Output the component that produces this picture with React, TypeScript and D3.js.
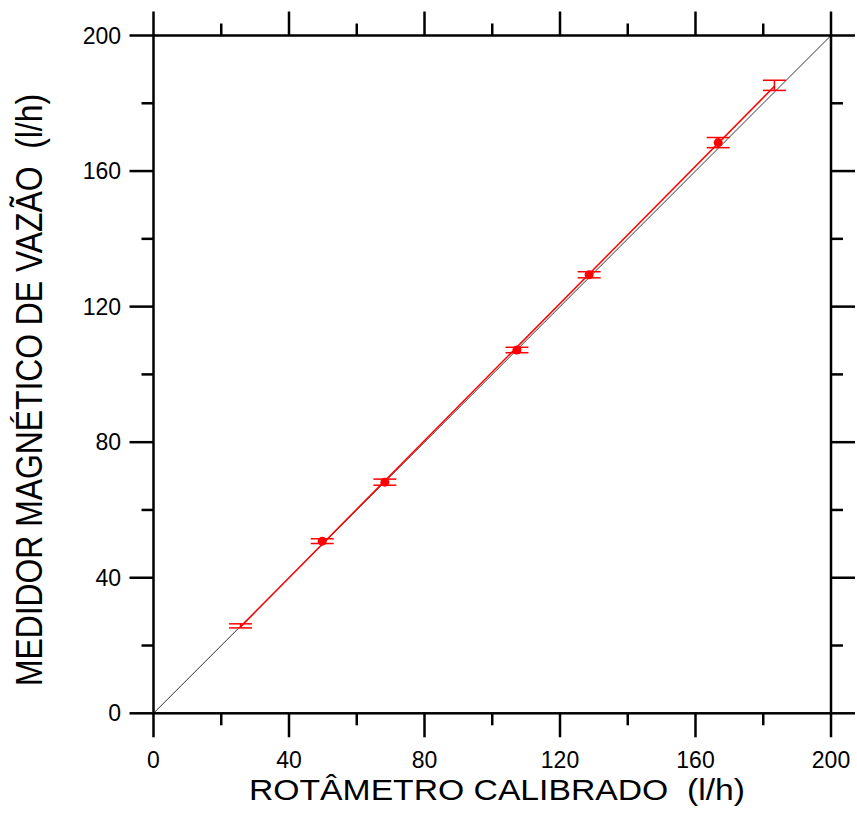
import React from "react";
import * as d3 from "d3";

const xVals = [25.7, 49.8, 68.3, 107.3, 128.6, 166.7, 183.3];
const yVals = [25.8, 50.8, 68.2, 107.2, 129.4, 168.4, 185.3];
const yErr = [0.6, 0.7, 0.9, 0.8, 0.9, 1.5, 1.5];
const showMarker = [false, true, true, true, true, true, false];
const majorTicks = [0, 40, 80, 120, 160, 200];
const minorTicks = [20, 60, 100, 140, 180];
const fitSlope = 1.012;
const fitIntercept = -0.5;
const fitRange = [25.7, 183.3];

export default function App() {
  const W = 857, H = 814;
  const x = d3.scaleLinear().domain([0, 200]).range([153.5, 831]);
  const y = d3.scaleLinear().domain([0, 200]).range([713.3, 35.5]);
  const font = "'Liberation Sans', Arial, Helvetica, sans-serif";
  const MAJ = 24, MIN = 12, SW = 2.5;
  const x0 = x(0), x1 = x(200), y0 = y(0), y1 = y(200);
  const line = d3.line<[number, number]>().x(d => x(d[0])).y(d => y(d[1]));
  const fitPts: [number, number][] = fitRange.map(v => [v, fitSlope * v + fitIntercept]);
  const capW = 11.5;

  return (
    <svg width={W} height={H} style={{ position: "absolute", left: 0, top: 0 }}>
      <rect width={W} height={H} fill="#fff" />
      {/* diagonal */}
      <path d={line([[0, 0], [200, 200]]) || ""} stroke="#000" strokeWidth={0.8} fill="none" />
      {/* fit line */}
      <path d={line(fitPts) || ""} stroke="#ff0000" strokeWidth={1.5} fill="none" />
      {/* error bars + markers */}
      {xVals.map((xv, i) => {
        const cx = x(xv), cy = y(yVals[i]);
        const yt = y(yVals[i] + yErr[i]), yb = y(yVals[i] - yErr[i]);
        return (
          <g key={i} stroke="#ff0000" strokeWidth={1.5}>
            <line x1={cx} x2={cx} y1={yt} y2={yb} />
            <line x1={cx - capW} x2={cx + capW} y1={yt} y2={yt} />
            <line x1={cx - capW} x2={cx + capW} y1={yb} y2={yb} />
            {showMarker[i] && <circle cx={cx} cy={cy} r={4.5} fill="#ff0000" stroke="none" />}
          </g>
        );
      })}
      {/* frame */}
      <rect x={x0} y={y1} width={x1 - x0} height={y0 - y1} fill="none" stroke="#000" strokeWidth={SW} />
      {/* ticks */}
      <g stroke="#000" strokeWidth={SW}>
        {majorTicks.map(t => (
          <g key={"M" + t}>
            <line x1={x(t)} x2={x(t)} y1={y0} y2={y0 + MAJ} />
            <line x1={x(t)} x2={x(t)} y1={y1} y2={y1 - MAJ} />
            <line x1={x0} x2={x0 - MAJ} y1={y(t)} y2={y(t)} />
            <line x1={x1} x2={x1 + MAJ} y1={y(t)} y2={y(t)} />
          </g>
        ))}
        {minorTicks.map(t => (
          <g key={"m" + t}>
            <line x1={x(t)} x2={x(t)} y1={y0} y2={y0 + MIN} />
            <line x1={x(t)} x2={x(t)} y1={y1} y2={y1 - MIN} />
            <line x1={x0} x2={x0 - MIN} y1={y(t)} y2={y(t)} />
            <line x1={x1} x2={x1 + MIN} y1={y(t)} y2={y(t)} />
          </g>
        ))}
      </g>
      {/* tick labels */}
      <g fontFamily={font} fontSize={23} fill="#000">
        {majorTicks.map(t => (
          <text key={"xl" + t} x={x(t)} y={768} textAnchor="middle">{t}</text>
        ))}
        {majorTicks.map(t => (
          <text key={"yl" + t} x={121} y={y(t) + 8} textAnchor="end">{t}</text>
        ))}
      </g>
      {/* axis titles */}
      <text x={249} y={800} fontFamily={font} fontSize={30} textLength={496} lengthAdjust="spacingAndGlyphs" style={{ whiteSpace: "pre" }}>
        {"ROTÂMETRO CALIBRADO  (l/h)"}
      </text>
      <text transform="translate(42,686) rotate(-90)" x={0} y={0} fontFamily={font} fontSize={36} textLength={592} lengthAdjust="spacingAndGlyphs" style={{ whiteSpace: "pre" }}>
        {"MEDIDOR MAGNÉTICO DE VAZÃO  (l/h)"}
      </text>
    </svg>
  );
}
